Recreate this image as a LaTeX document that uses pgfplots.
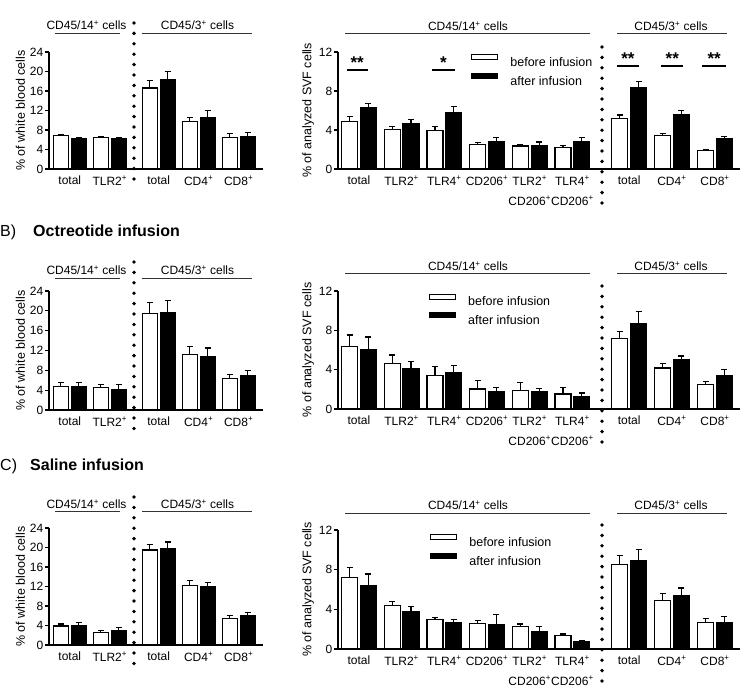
\documentclass[border=0pt]{standalone}
\usepackage{pgfplots}
\pgfplotsset{compat=1.18}
\usepackage{pgfplotstable}
\usepackage{fontspec}
\setmainfont{Liberation Sans}

% columns: x position, before infusion (mean, SEM), after infusion (mean, SEM)
\pgfplotstableread{
x    b     be    a     ae
0    6.8   0.2   6.3   0.2
1    6.5   0.2   6.25  0.2
2.22 16.6  1.5   18.35 1.65
3.22 9.7   0.8   10.6  1.4
4.22 6.4   0.8   6.7   0.8
}\bloodA
\pgfplotstableread{
x    b     be    a     ae
0    4.8   0.7   4.8   0.8
1    4.55  0.6   4.2   0.9
2.22 19.4  2.3   19.7  2.4
3.22 11.2  1.6   10.8  1.7
4.22 6.3   0.8   7.0   0.95
}\bloodB
\pgfplotstableread{
x    b     be    a     ae
0    3.9   0.4   4.0   0.55
1    2.6   0.45  2.9   0.7
2.22 19.5  1.1   19.7  1.45
3.22 12.2  1.0   11.9  1.0
4.22 5.4   0.7   6.0   0.7
}\bloodC
\pgfplotstableread{
x    b     be    a     ae
0    4.86  0.55  6.33  0.4
1    4.08  0.27  4.69  0.4
2    3.95  0.4   5.82  0.58
3    2.48  0.25  2.86  0.41
4    2.35  0.2   2.35  0.41
5    2.18  0.23  2.82  0.45
6.33 5.17  0.37  8.37  0.58
7.33 3.4   0.27  5.54  0.5
8.34 1.87  0.1   3.1   0.27
}\svfA
\pgfplotstableread{
x    b     be    a     ae
0    6.35  1.18  6.0   1.33
1    4.66  0.84  4.09  0.74
2    3.41  0.91  3.72  0.67
3    2.03  0.84  1.79  0.37
4    1.89  0.81  1.72  0.38
5    1.52  0.68  1.28  0.34
6.33 7.13  0.74  8.72  1.18
7.33 4.16  0.44  5.0   0.4
8.34 2.47  0.33  3.38  0.67
}\svfB
\pgfplotstableread{
x    b     be    a     ae
0    7.2   1.0   6.38  1.19
1    4.36  0.47  3.75  0.54
2    3.0   0.2   2.67  0.33
3    2.57  0.3   2.47  1.04
4    2.23  0.3   1.79  0.47
5    1.35  0.17  0.78  0.1
6.33 8.55  0.85  8.89  1.18
7.33 4.93  0.67  5.37  0.78
8.34 2.7   0.35  2.7   0.55
}\svfC

\newcommand{\plus}{\textsuperscript{+}}
\newcommand{\txt}{\fontsize{12}{14}\selectfont}

\tikzset{
  dots/.style={line width=3.8pt, line cap=round, dash pattern=on 0pt off 10.4pt},
  head/.style={line width=0.9pt, black!80},
}

\pgfplotsset{
  prism/.style={
    scale only axis,
    axis x line=bottom, axis y line=left,
    axis line style={-, line width=1.6pt},
    tick align=outside,
    major tick length=4pt,
    ytick style={line width=1.3pt, black},
    xtick style={draw=none},
    ymin=0, clip=false,
    /pgf/number format/assume math mode=true,
    tick label style={font=\txt},
    yticklabel style={inner sep=1.5pt},
    xticklabel style={align=center, inner sep=3pt},
    label style={font=\fontsize{12.5}{15}\selectfont},
  },
  blood/.style={prism, width=214pt,
    xmin=-0.52, xmax=4.83, ymax=24, ytick={0,4,...,24},
    xtick={0,1,2.22,3.22,4.22},
    xticklabels={total, TLR2\plus, total, CD4\plus, CD8\plus},
    ylabel={\% of white blood cells}},
  svf/.style={prism, width=402pt,
    xmin=-0.49, xmax=8.925, ymax=12, ytick={0,4,8,12},
    xtick={0,1,2,3,4,5,6.33,7.33,8.34},
    xticklabels={total, TLR2\plus, TLR4\plus, CD206\plus, {TLR2\plus\\[6pt]CD206\plus},
      {TLR4\plus\\[6pt]CD206\plus}, total, CD4\plus, CD8\plus},
    ylabel={\% of analyzed SVF cells},
    legend cell align=left,
    legend style={draw=none, fill=none, inner sep=0pt, row sep=3pt,
      font=\fontsize{12.5}{15}\selectfont, anchor=north west}},
  % bars sit at x +/- offset (offset given in the table expression), no automatic shift
  bars/.style={ybar, bar width=0.375, bar shift=0pt, draw=black, line width=1.2pt,
    error bars/y dir=plus, error bars/y explicit,
    error bars/error bar style={line width=1.2pt, black},
    error bars/error mark options={rotate=90, line width=1.2pt, mark size=3pt, black}},
  before/.style={bars, fill=white,
    legend image code/.code={\draw[fill=white, draw=black, line width=1.1pt]
      (0pt,3pt) rectangle (26pt,8pt); \path (36pt,0pt);}},
  after/.style={bars, fill=black,
    legend image code/.code={\draw[fill=black, draw=black, line width=1.1pt]
      (0pt,3pt) rectangle (26pt,8pt); \path (36pt,0pt);}},
}

\begin{document}
\begin{tikzpicture}
\useasboundingbox (0,0) rectangle (746pt,-687pt);

% ---------- A: blood ----------
\begin{axis}[blood, at={(49pt,-169pt)}, anchor=south west, height=117pt]
  \addplot[before] table[x expr=\thisrow{x}-0.225, y=b, y error=be] {\bloodA};
  \addplot[after]  table[x expr=\thisrow{x}+0.225, y=a, y error=ae] {\bloodA};
\end{axis}
% ---------- A: SVF ----------
\begin{axis}[svf, at={(338pt,-169pt)}, anchor=south west, height=117pt,
    legend style={at={(0.331,0.985)}}]
  \addplot[before] table[x expr=\thisrow{x}-0.22, y=b, y error=be] {\svfA};
  \addplot[after]  table[x expr=\thisrow{x}+0.22, y=a, y error=ae] {\svfA};
  \legend{before infusion, after infusion}
  % significance
  \draw[line width=1.6pt] (axis cs:-0.29,10.15) -- (axis cs:0.22,10.15);
  \draw[line width=1.6pt] (axis cs:1.71,10.15) -- (axis cs:2.24,10.15);
  \draw[line width=1.6pt] (axis cs:6.04,10.56) -- (axis cs:6.57,10.56);
  \draw[line width=1.6pt] (axis cs:7.08,10.56) -- (axis cs:7.60,10.56);
  \draw[line width=1.6pt] (axis cs:8.04,10.56) -- (axis cs:8.60,10.56);
  \node[anchor=south, inner sep=1pt, font=\fontsize{17}{17}\selectfont\bfseries] at (axis cs:-0.04,10.15) {**};
  \node[anchor=south, inner sep=1pt, font=\fontsize{17}{17}\selectfont\bfseries] at (axis cs:1.98,10.15) {*};
  \node[anchor=south, inner sep=1pt, font=\fontsize{17}{17}\selectfont\bfseries] at (axis cs:6.30,10.56) {**};
  \node[anchor=south, inner sep=1pt, font=\fontsize{17}{17}\selectfont\bfseries] at (axis cs:7.34,10.56) {**};
  \node[anchor=south, inner sep=1pt, font=\fontsize{17}{17}\selectfont\bfseries] at (axis cs:8.32,10.56) {**};
\end{axis}

% ---------- B: blood ----------
\begin{axis}[blood, at={(49pt,-410pt)}, anchor=south west, height=119pt]
  \addplot[before] table[x expr=\thisrow{x}-0.225, y=b, y error=be] {\bloodB};
  \addplot[after]  table[x expr=\thisrow{x}+0.225, y=a, y error=ae] {\bloodB};
\end{axis}
% ---------- B: SVF ----------
\begin{axis}[svf, at={(338pt,-409pt)}, anchor=south west, height=118pt,
    legend style={at={(0.226,0.98)}}]
  \addplot[before] table[x expr=\thisrow{x}-0.22, y=b, y error=be] {\svfB};
  \addplot[after]  table[x expr=\thisrow{x}+0.22, y=a, y error=ae] {\svfB};
  \legend{before infusion, after infusion}
\end{axis}

% ---------- C: blood ----------
\begin{axis}[blood, at={(49pt,-645pt)}, anchor=south west, height=117pt]
  \addplot[before] table[x expr=\thisrow{x}-0.225, y=b, y error=be] {\bloodC};
  \addplot[after]  table[x expr=\thisrow{x}+0.225, y=a, y error=ae] {\bloodC};
\end{axis}
% ---------- C: SVF ----------
\begin{axis}[svf, at={(338pt,-649pt)}, anchor=south west, height=119pt,
    legend style={at={(0.229,0.965)}}]
  \addplot[before] table[x expr=\thisrow{x}-0.22, y=b, y error=be] {\svfC};
  \addplot[after]  table[x expr=\thisrow{x}+0.22, y=a, y error=ae] {\svfC};
  \legend{before infusion, after infusion}
\end{axis}

% ---------- panel titles ----------
\node[anchor=base west, inner sep=0pt, font=\fontsize{16}{18}\selectfont] at (0pt,-236pt) {B)};
\node[anchor=base west, inner sep=0pt, font=\fontsize{16}{18}\selectfont\bfseries] at (33pt,-236pt) {Octreotide infusion};
\node[anchor=base west, inner sep=0pt, font=\fontsize{16}{18}\selectfont] at (0pt,-470pt) {C)};
\node[anchor=base west, inner sep=0pt, font=\fontsize{16}{18}\selectfont\bfseries] at (30pt,-470pt) {Saline infusion};

% ---------- group headers ----------
\foreach \ty/\ly in {25/33, 270/278, 504/511} {
  \node[font=\txt, inner sep=0pt] at (86.5pt,-\ty pt) {CD45/14\plus{} cells};
  \node[font=\txt, inner sep=0pt] at (197.5pt,-\ty pt) {CD45/3\plus{} cells};
  \draw[head] (55pt,-\ly pt) -- (120pt,-\ly pt);
  \draw[head] (142pt,-\ly pt) -- (252pt,-\ly pt);
}
\foreach \ty/\ly in {26/33, 266/273, 505/513} {
  \node[font=\txt, inner sep=0pt] at (468pt,-\ty pt) {CD45/14\plus{} cells};
  \node[font=\txt, inner sep=0pt] at (671pt,-\ty pt) {CD45/3\plus{} cells};
  \draw[head] (345pt,-\ly pt) -- (590pt,-\ly pt);
  \draw[head] (617pt,-\ly pt) -- (727pt,-\ly pt);
}

% ---------- dotted separators ----------
\draw[dots] (134pt,-23pt) -- (134pt,-182pt);
\draw[dots] (134pt,-262pt) -- (134pt,-438pt);
\draw[dots] (134pt,-497pt) -- (134pt,-667pt);
\draw[dots] (602pt,-47pt) -- (602pt,-210pt);
\draw[dots] (602pt,-286pt) -- (602pt,-450pt);
\draw[dots] (602pt,-525pt) -- (602pt,-690pt);
\end{tikzpicture}
\end{document}
